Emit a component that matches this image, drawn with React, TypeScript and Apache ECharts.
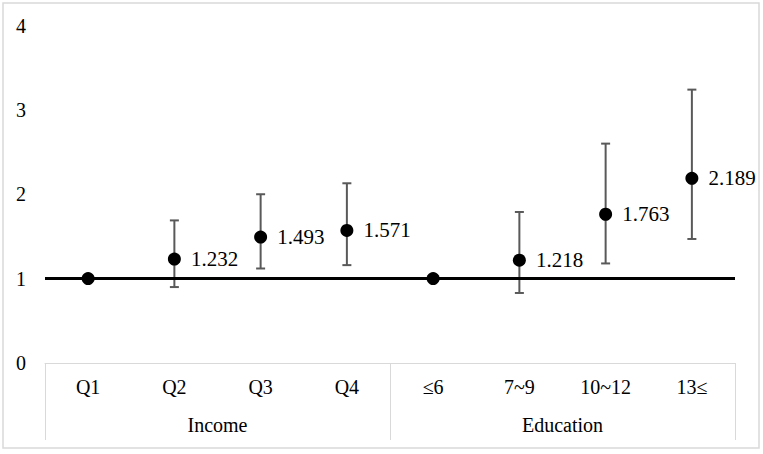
import React, { useEffect, useRef } from "react";
import * as echarts from "echarts";

const categories = ["Q1", "Q2", "Q3", "Q4", "≤6", "7~9", "10~12", "13≤"];
const groups = ["Income", "Education"];
const oddsRatios = [1, 1.232, 1.493, 1.571, 1, 1.218, 1.763, 2.189];
const ciLower: (number | null)[] = [null, 0.9, 1.12, 1.16, null, 0.83, 1.18, 1.47];
const ciUpper: (number | null)[] = [null, 1.69, 2.0, 2.13, null, 1.79, 2.6, 3.24];
const referenceValue = 1;
const yMin = 0;
const yMax = 4;
const yInterval = 1;

const FONT = "Liberation Serif";

export default function App() {
  const ref = useRef<HTMLDivElement>(null);

  useEffect(() => {
    if (!ref.current) return;
    const chart = echarts.init(ref.current, undefined, { renderer: "svg" });

    const errorData = categories
      .map((_, i) => (ciLower[i] != null && ciUpper[i] != null ? [i, ciLower[i], ciUpper[i]] : null))
      .filter((d) => d !== null);

    const scatterData = oddsRatios.map((v, i) => ({
      value: [i, v],
      label: { show: ciLower[i] != null },
    }));

    chart.setOption({
      animation: false,
      backgroundColor: "#ffffff",
      textStyle: { fontFamily: FONT },
      graphic: [
        {
          type: "rect",
          shape: { x: 3, y: 3, width: 756, height: 445 },
          style: { fill: "none", stroke: "#d9d9d9", lineWidth: 1.5 },
          silent: true,
          z: -1,
        },
      ],
      grid: { left: 45, right: 28, top: 25.5, bottom: 91 },
      xAxis: [
        {
          type: "category",
          data: categories,
          position: "bottom",
          boundaryGap: true,
          axisLine: { show: true, lineStyle: { color: "#d9d9d9", width: 1 } },
          axisTick: { show: false },
          axisLabel: {
            interval: 0,
            margin: 14,
            color: "#000",
            fontSize: 20,
            fontFamily: FONT,
          },
          splitLine: { show: false },
        },
        {
          type: "category",
          data: groups,
          position: "bottom",
          boundaryGap: true,
          axisLine: { show: false },
          axisTick: { show: true, length: 77, lineStyle: { color: "#d9d9d9", width: 1 } },
          axisLabel: {
            interval: 0,
            margin: 52,
            color: "#000",
            fontSize: 20,
            fontFamily: FONT,
          },
          splitLine: { show: false },
        },
      ],
      yAxis: {
        type: "value",
        min: yMin,
        max: yMax,
        interval: yInterval,
        axisLine: { show: false },
        axisTick: { show: false },
        splitLine: { show: false },
        axisLabel: { margin: 19, color: "#000", fontSize: 20, fontFamily: FONT },
      },
      series: [
        {
          type: "custom",
          xAxisIndex: 0,
          yAxisIndex: 0,
          z: 2,
          data: errorData,
          renderItem: (params: any, api: any) => {
            const x = api.value(0);
            const lo = api.coord([x, api.value(1)]);
            const hi = api.coord([x, api.value(2)]);
            const cap = 4.5;
            const style = { stroke: "#595959", lineWidth: 2 };
            return {
              type: "group",
              children: [
                { type: "line", shape: { x1: lo[0], y1: lo[1], x2: hi[0], y2: hi[1] }, style },
                { type: "line", shape: { x1: hi[0] - cap, y1: hi[1], x2: hi[0] + cap, y2: hi[1] }, style },
                { type: "line", shape: { x1: lo[0] - cap, y1: lo[1], x2: lo[0] + cap, y2: lo[1] }, style },
              ],
            };
          },
          markLine: {
            silent: true,
            symbol: ["none", "none"],
            label: { show: false },
            lineStyle: { color: "#000", width: 3, type: "solid" },
            data: [{ yAxis: referenceValue }],
            z: 3,
          },
        },
        {
          type: "scatter",
          xAxisIndex: 0,
          yAxisIndex: 0,
          z: 5,
          symbol: "circle",
          symbolSize: 13,
          itemStyle: { color: "#000", opacity: 1 },
          data: scatterData,
          label: {
            show: true,
            position: "right",
            distance: 10,
            color: "#000",
            fontSize: 21,
            fontFamily: FONT,
            formatter: (p: any) => Number(p.value[1]).toFixed(3),
          },
        },
      ],
    });

    return () => chart.dispose();
  }, []);

  return (
    <div
      ref={ref}
      style={{ position: "fixed", left: 0, top: 0, width: 763, height: 454, background: "#fff" }}
    />
  );
}
